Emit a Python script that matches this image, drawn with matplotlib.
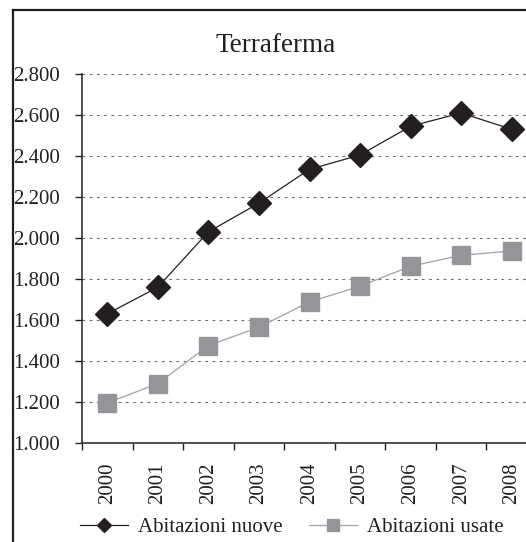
import matplotlib
matplotlib.use("Agg")
import matplotlib.pyplot as plt
from matplotlib.lines import Line2D

years = ["2000", "2001", "2002", "2003", "2004", "2005", "2006", "2007", "2008"]
nuove = [1630, 1760, 2030, 2170, 2335, 2405, 2545, 2610, 2530]
usate = [1195, 1290, 1475, 1565, 1688, 1765, 1862, 1916, 1937]
yticks = [1000, 1200, 1400, 1600, 1800, 2000, 2200, 2400, 2600, 2800]
ytick_labels = ["1.000", "1.200", "1.400", "1.600", "1.800", "2.000",
                "2.200", "2.400", "2.600", "2.800"]

TXT = "#231f20"
DARK = "#231f20"
GREY = "#939598"
FS = 15

plt.rcParams["font.family"] = ["Liberation Serif", "DejaVu Serif"]

W, H = 526, 542
fig = plt.figure(figsize=(W / 100, H / 100), dpi=100)
ax = fig.add_axes([82 / W, 1 - 443 / H, 455 / W, 369 / H])

x = list(range(len(years)))
ax.plot(x, usate, color="#a7a9ac", lw=1.0, marker="s", ms=13.5,
        mfc=GREY, mec=GREY, zorder=3)
ax.plot(x, nuove, color=DARK, lw=0.9, marker="D", ms=12,
        mfc=DARK, mec=DARK, zorder=4)

ax.set_xlim(-0.5, len(years) - 0.5)
ax.set_ylim(1000, 2800)
ax.set_yticks(yticks)
ax.set_yticklabels(ytick_labels, fontsize=FS, color=TXT)
ax.set_xticks(x)
ax.set_xticklabels(years, rotation=90, fontsize=FS, color=TXT)
ax.set_xticks([i - 0.5 for i in range(len(years) + 1)], minor=True)
ax.tick_params(axis="x", which="major", length=0, pad=14)
ax.tick_params(axis="x", which="minor", length=5, width=1, color=DARK, direction="out")
ax.tick_params(axis="y", length=5, width=1, color=DARK, direction="out", pad=11)

for v in yticks[1:]:
    ax.axhline(v, color="#6d6e71", lw=0.8, ls=(0, (2.5, 4)), zorder=1)

for s in ("top", "right"):
    ax.spines[s].set_visible(False)
for s in ("left", "bottom"):
    ax.spines[s].set_color(DARK)
    ax.spines[s].set_linewidth(1.1)

# outer frame of the chart (only left and top edges fall inside the picture)
fx, fy = 13 / W, 1 - 10 / H
fig.add_artist(Line2D([fx, fx], [-0.05, fy], transform=fig.transFigure,
                      color=DARK, lw=1.6))
fig.add_artist(Line2D([fx, 1.05], [fy, fy], transform=fig.transFigure,
                      color=DARK, lw=1.6))

fig.text(276 / W, 1 - 45 / H, "Terraferma", ha="center", va="center",
         fontsize=19.5, color=TXT)

handles = [
    Line2D([], [], color=DARK, lw=0.9, marker="D", ms=7, mfc=DARK, mec=DARK),
    Line2D([], [], color="#a7a9ac", lw=1.0, marker="s", ms=8, mfc=GREY, mec=GREY),
]
fig.legend(handles, ["Abitazioni nuove", "Abitazioni usate"], loc="center",
           bbox_to_anchor=(292 / W, 1 - 527 / H), ncol=2, frameon=False,
           fontsize=FS, handlelength=2.3, handletextpad=0.5,
           columnspacing=1.25, labelcolor=TXT, borderpad=0)

fig.savefig("out.png", dpi=100)
